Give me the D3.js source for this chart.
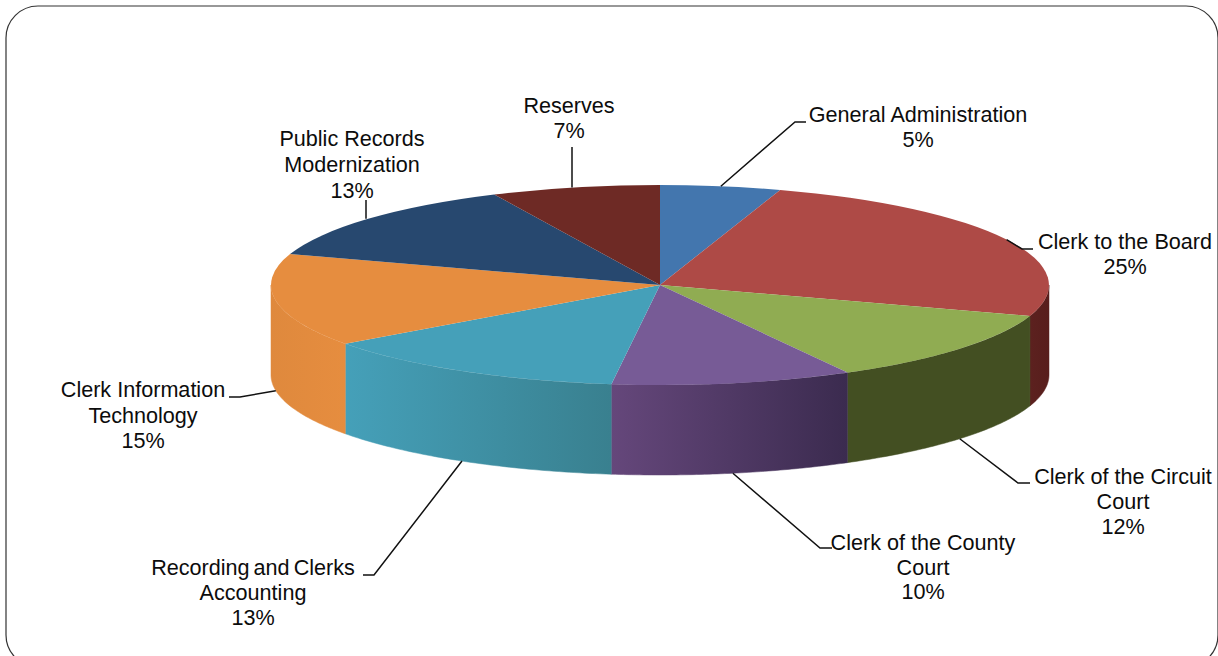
<!DOCTYPE html>
<html>
<head>
<meta charset="utf-8">
<script src="https://cdn.jsdelivr.net/npm/d3@7/dist/d3.min.js"></script>
<style>
html, body { margin: 0; padding: 0; background: #fff; overflow: hidden; }
svg { display: block; }
text { font-family: "Liberation Sans", Arial, sans-serif; font-size: 21.6px; fill: #0c0c0c; text-anchor: middle; }
</style>
</head>
<body>
<svg id="chart" width="1218" height="656"></svg>
<script>
// Budget shares, clockwise from twelve o'clock
const categories = [
  "General Administration", "Clerk to the Board", "Clerk of the Circuit Court",
  "Clerk of the County Court", "Recording and Clerks Accounting",
  "Clerk Information Technology", "Public Records Modernization", "Reserves"
];
const shares = [5, 25, 12, 10, 13, 15, 13, 7];

// Wrapped label lines above each percentage
const labelLines = [
  ["General Administration"], ["Clerk to the Board"], ["Clerk of the Circuit", "Court"],
  ["Clerk of the County", "Court"], ["Recording and Clerks", "Accounting"],
  ["Clerk Information", "Technology"], ["Public Records", "Modernization"], ["Reserves"]
];

// Presentation
const topColors = ["#4376ae", "#ae4a46", "#90ac52", "#775b96", "#45a0b9", "#e68d3f", "#27486f", "#6e2a25"];
const wallLeft  = ["#4376ae", "#5c211f", "#434f22", "#65477b", "#45a0b9", "#df893d", "#27486f", "#6e2a25"];
const wallRight = ["#4376ae", "#581e1c", "#434f22", "#3b2b4f", "#39808f", "#e68d3f", "#27486f", "#6e2a25"];
const labelCenterX = [918, 1125, 1123, 923, 253, 143, 352, 569];
const labelFirstY  = [122, 249, 484, 550, 575, 397, 146, 113];
const labelStep    = [25, 25, 25, 24.5, 25, 25.5, 26, 25];
const labelWordGap = [0, 0, 0, 0, -2, 0, 0, 0];
// Elbow of each leader line, then where it ends beside its label
const elbow = [[795, 122], [1022, 249], [1018, 483], [820, 548], [374, 575], [240, 397], [366, 220], [572, 187]];
const leaderEnd = [[806, 122], [1033, 249], [1030, 483], [832, 548], [363, 575], [229, 397], [366, 200], [572, 147]];

const cx = 660, cy = 285, rx = 389, ry = 100, depth = 90;
const svg = d3.select("#chart");
const defs = svg.append("defs");

// Outer rounded frame, running off the bottom edge
svg.append("rect")
  .attr("x", 6).attr("y", 6).attr("width", 1212).attr("height", 661)
  .attr("rx", 32).attr("ry", 32)
  .attr("fill", "#fff").attr("stroke", "#333").attr("stroke-width", 1.2);

const slices = d3.pie().sort(null).value(d => d)(shares);

// Map pie angles onto the tilted ellipse
const sx = d3.scaleLinear().domain([-1, 1]).range([cx - rx, cx + rx]);
const sy = d3.scaleLinear().domain([-1, 1]).range([cy - ry, cy + ry]);
const rimX = a => sx(Math.sin(a));
const rimY = a => sy(-Math.cos(a));

// Front walls: only the part of each slice between 3 and 9 o'clock faces the viewer
const wallArea = d3.area().x(a => rimX(a)).y0(a => rimY(a)).y1(a => rimY(a) + depth);
const pie = svg.append("g");

slices.forEach((s, i) => {
  const a0 = Math.max(s.startAngle, Math.PI / 2);
  const a1 = Math.min(s.endAngle, 3 * Math.PI / 2);
  if (a1 <= a0) return;
  const grad = defs.append("linearGradient").attr("id", "wall" + i);
  grad.append("stop").attr("offset", "0%").attr("stop-color", wallLeft[i]);
  grad.append("stop").attr("offset", "100%").attr("stop-color", wallRight[i]);
  const steps = d3.range(0, 61).map(k => a0 + (a1 - a0) * k / 60);
  pie.append("path")
    .attr("d", wallArea(steps))
    .attr("fill", `url(#wall${i})`)
    .attr("stroke", `url(#wall${i})`)
    .attr("stroke-width", 0.5);
});

// Top face, a unit d3 arc squashed into the ellipse
const arc = d3.arc().innerRadius(0).outerRadius(1);
pie.append("g")
  .attr("transform", `translate(${cx},${cy}) scale(${rx},${ry})`)
  .selectAll("path")
  .data(slices)
  .join("path")
  .attr("d", arc)
  .attr("fill", (d, i) => topColors[i]);

// Leader lines start on the rim at each slice's mid angle
slices.forEach((s, i) => {
  const mid = (s.startAngle + s.endAngle) / 2;
  const front = mid > Math.PI / 2 && mid < 3 * Math.PI / 2;
  const start = [rimX(mid), rimY(mid) + (front ? depth : 0)];
  const isVertical = elbow[i][0] === leaderEnd[i][0];
  const pts = isVertical ? [[leaderEnd[i][0], start[1]], leaderEnd[i]] : [start, elbow[i], leaderEnd[i]];
  svg.append("path")
    .attr("d", d3.line()(pts))
    .attr("fill", "none")
    .attr("stroke", "#111")
    .attr("stroke-width", 1.5);
});

// Category names with their percentages
slices.forEach((s, i) => {
  const lines = labelLines[i].concat(shares[i] + "%");
  const t = svg.append("text").attr("aria-label", categories[i]);
  lines.forEach((line, k) => {
    t.append("tspan")
      .attr("x", labelCenterX[i])
      .attr("y", labelFirstY[i] + k * labelStep[i])
      .attr("word-spacing", labelWordGap[i])
      .text(line);
  });
});
</script>
</body>
</html>
